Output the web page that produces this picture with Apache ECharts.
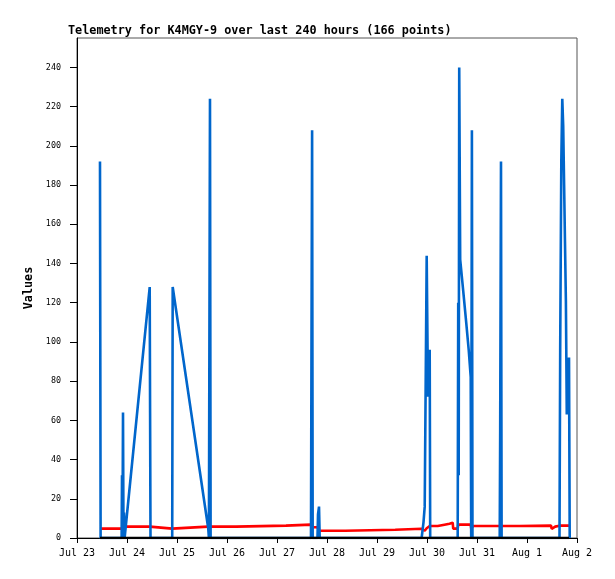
<!DOCTYPE html>
<html>
<head>
<meta charset="utf-8">
<title>Telemetry K4MGY-9</title>
<script src="https://cdn.jsdelivr.net/npm/echarts@6/dist/echarts.min.js"></script>
<style>
  html, body { margin: 0; padding: 0; background: #fff; }
  #chart { width: 615px; height: 579px; }
</style>
</head>
<body>
<div id="chart"></div>
<script>
var times = [
  '07-23 11:02', '07-23 11:20', '07-23 21:25', '07-23 21:36', '07-23 21:50',
  '07-23 22:05', '07-23 22:19', '07-23 22:34', '07-23 22:51', '07-24 10:54',
  '07-24 11:05', '07-24 11:17', '07-24 21:42', '07-24 21:56', '07-25 14:59',
  '07-25 15:19', '07-25 15:50', '07-25 16:08', '07-26 04:19', '07-26 04:34',
  '07-27 04:19', '07-27 04:34', '07-27 16:19', '07-27 16:34', '07-27 16:51',
  '07-27 17:08', '07-27 19:26', '07-27 19:41', '07-27 20:10', '07-27 20:30',
  '07-28 08:44', '07-28 08:59', '07-29 08:44', '07-29 08:59', '07-29 21:25',
  '07-29 21:39', '07-29 22:19', '07-29 22:54', '07-29 23:51', '07-30 00:29',
  '07-30 01:18', '07-30 01:32', '07-30 05:08', '07-30 05:23', '07-30 08:24',
  '07-30 08:38', '07-30 10:48', '07-30 11:02', '07-30 12:20', '07-30 12:35',
  '07-30 14:44', '07-30 14:59', '07-30 15:13', '07-30 15:28', '07-30 15:56',
  '07-30 17:23', '07-30 18:49', '07-30 20:01', '07-30 20:59', '07-30 21:13',
  '07-30 21:33', '07-30 21:50', '07-30 22:08', '07-31 10:54', '07-31 11:08',
  '07-31 11:31', '07-31 11:49', '07-31 20:24', '07-31 20:38', '08-01 11:31',
  '08-01 11:51', '08-01 12:35', '08-01 13:32', '08-01 14:16', '08-01 15:36',
  '08-01 15:56', '08-01 16:28', '08-01 16:56', '08-01 17:23', '08-01 17:49',
  '08-01 18:14', '08-01 18:40', '08-01 19:06', '08-01 19:38', '08-01 20:10',
  '08-01 20:30'
];

// channel 1 (blue)
var ch1 = [
  192, 0, 0, 32, 0,
  64, 0, 13, 0, 128,
  64, 0, 0, 128, 5,
  0, 224, 0, 0, 0,
  0, 0, 0, 104, 208,
  0, 0, 12, 16, 0,
  0, 0, 0, 0, 0,
  0, 8, 16, 144, 72,
  96, 0, 0, 0, 0,
  0, 0, 0, 0, 0,
  0, 120, 32, 240, 142,
  126, 110, 96, 82, 0,
  208, 0, 0, 0, 56,
  192, 0, 0, 0, 0,
  0, 0, 0, 0, 0,
  96, 192, 224, 210, 180,
  151, 121, 63, 88, 92,
  0
];

// channel 2 (red)
var ch2 = [
  4.8, 4.8, 4.8, 4.8, 4.8,
  4.8, 4.8, 4.8, 5.8, 5.8,
  4.8, 4.8, 4.8, 5.8, 5.8,
  5.8, 5.8, 5.8, 5.8, 6.3,
  6.3, 6.8, 6.8, 6.8, 5.5,
  5.5, 5.5, 5.5, 3.7, 3.7,
  3.7, 4.2, 4.2, 4.7, 4.7,
  3.7, 3.7, 3.7, 5.0, 5.5,
  6.1, 6.1, 6.1, 6.8, 6.8,
  7.3, 7.3, 7.8, 7.8, 4.8,
  4.8, 6.8, 6.8, 6.8, 6.8,
  6.8, 6.8, 6.8, 6.8, 4.8,
  4.8, 4.8, 6.1, 6.1, 6.1,
  6.1, 6.1, 6.1, 6.3, 6.3,
  4.7, 5.3, 5.8, 6.3, 6.3,
  6.3, 6.3, 6.3, 6.3, 6.3,
  6.3, 6.3, 6.3, 6.3, 6.3,
  6.3
];

// channel 3 (black), flat
var ch3 = [
  0, 0, 0, 0, 0, 0, 0, 0, 0, 0, 0, 0, 0, 0, 0, 0, 0, 0, 0, 0,
  0, 0, 0, 0, 0, 0, 0, 0, 0, 0, 0, 0, 0, 0, 0, 0, 0, 0, 0, 0,
  0, 0, 0, 0, 0, 0, 0, 0, 0, 0, 0, 0, 0, 0, 0, 0, 0, 0, 0, 0,
  0, 0, 0, 0, 0, 0, 0, 0, 0, 0, 0, 0, 0, 0, 0, 0, 0, 0, 0, 0,
  0, 0, 0, 0, 0, 0
];

var dayLabels = ['Jul 23', 'Jul 24', 'Jul 25', 'Jul 26', 'Jul 27', 'Jul 28',
                 'Jul 29', 'Jul 30', 'Jul 31', 'Aug 1', 'Aug 2'];
var yTicks = [0, 20, 40, 60, 80, 100, 120, 140, 160, 180, 200, 220, 240];

// hours since Jul 23 00:00
function toHours(s) {
  var mon = parseInt(s.substr(0, 2), 10);
  var day = parseInt(s.substr(3, 2), 10);
  var hh = parseInt(s.substr(6, 2), 10);
  var mm = parseInt(s.substr(9, 2), 10);
  var d = mon == 7 ? day - 23 : day + 8;
  return d * 24 + hh + mm / 60;
}

function pairs(vals) {
  var out = [];
  for (var i = 0; i < times.length; i++) {
    out.push([toHours(times[i]), vals[i]]);
  }
  return out;
}

var mono = 'DejaVu Sans Mono';
var chart = echarts.init(document.getElementById('chart'), null, { renderer: 'canvas' });

var option = {
  animation: false,
  backgroundColor: '#fff',
  title: {
    text: 'Telemetry for K4MGY-9 over last 240 hours (166 points)',
    left: 68,
    top: 25,
    padding: 0,
    textStyle: { fontFamily: mono, fontSize: 11.8, fontWeight: 'bold', color: '#000' }
  },
  grid: {
    left: 77, right: 38, top: 38, bottom: 41,
    show: true, borderColor: '#555', borderWidth: 1, backgroundColor: 'transparent'
  },
  xAxis: {
    type: 'value',
    min: 0, max: 240, interval: 24,
    z: 1,
    axisLine: { show: true, lineStyle: { color: '#000', width: 1 } },
    axisTick: { show: true, length: 5, lineStyle: { color: '#000' } },
    splitLine: { show: false },
    axisLabel: {
      margin: 10,
      fontFamily: mono, fontSize: 10, color: '#000',
      formatter: function (v) { return dayLabels[Math.round(v / 24)]; }
    }
  },
  yAxis: {
    type: 'value',
    min: 0, max: 255,
    name: 'Values',
    nameLocation: 'middle',
    nameGap: 37,
    nameTextStyle: { fontFamily: mono, fontSize: 11.8, fontWeight: 'bold', color: '#000' },
    axisLine: { show: true, lineStyle: { color: '#000', width: 1 } },
    axisTick: { show: true, length: 7, customValues: yTicks, lineStyle: { color: '#000' } },
    splitLine: { show: false },
    axisLabel: {
      margin: 16,
      customValues: yTicks,
      fontFamily: mono, fontSize: 8.4, color: '#000'
    }
  },
  series: [
    {
      name: 'ch2', type: 'line', data: pairs(ch2), showSymbol: false, symbol: 'none',
      z: 2, lineStyle: { color: '#ff0000', width: 2.6, join: 'bevel' }
    },
    {
      name: 'ch1', type: 'line', data: pairs(ch1), showSymbol: false, symbol: 'none',
      z: 3, lineStyle: { color: '#0066cc', width: 2.6, join: 'bevel' }
    },
    {
      name: 'ch3', type: 'line', data: pairs(ch3), showSymbol: false, symbol: 'none',
      z: 4, lineStyle: { color: '#000', width: 2.4 }
    }
  ]
};
chart.setOption(option);
</script>
</body>
</html>
